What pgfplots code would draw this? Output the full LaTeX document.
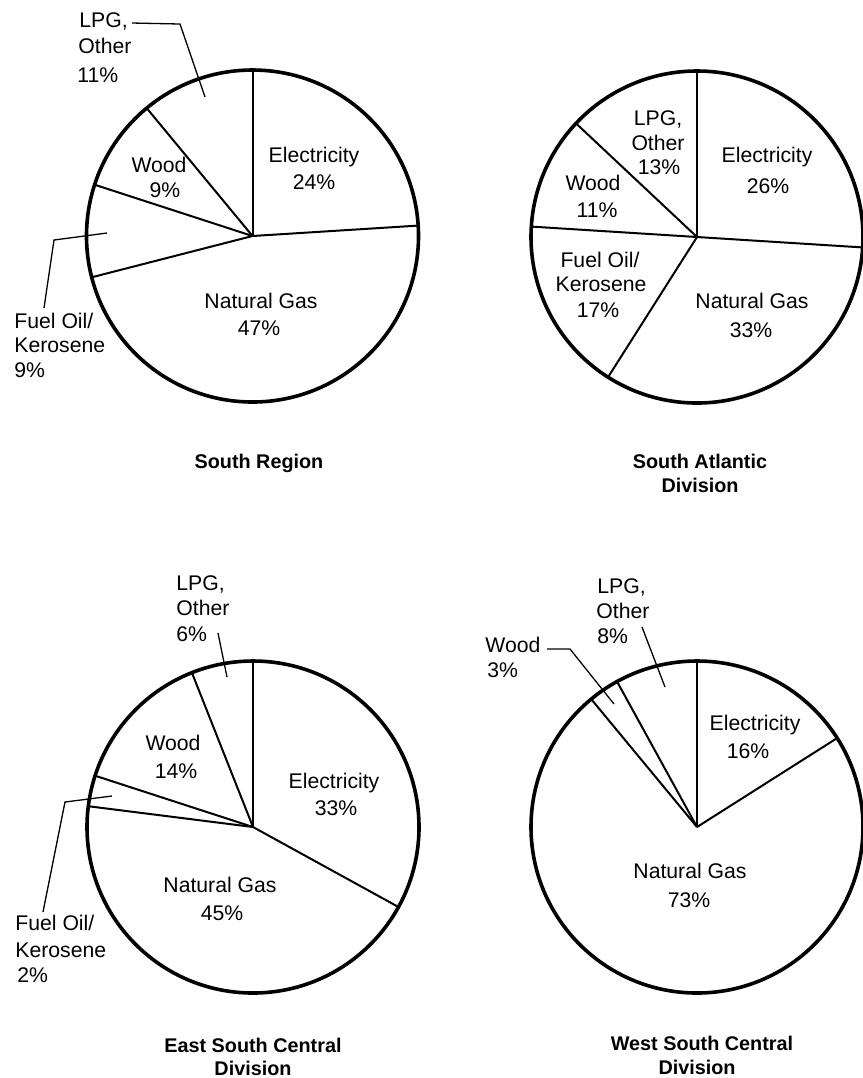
\documentclass[border=0pt]{standalone}
\usepackage{pgfplots}
\pgfplotsset{compat=1.18}
\usepackage{fontspec}
\setmainfont{Liberation Sans}

% one text line, placed at image pixel coordinates (x to the right, y downward)
\newcommand{\lab}[4][mid]{\node[anchor=#1, inner sep=0pt, font=\fontsize{10.6bp}{13bp}\selectfont] at (axis cs:#2,#3) {#4};}
\newcommand{\ttl}[3]{\node[anchor=mid, inner sep=0pt, font=\fontsize{9.9bp}{12bp}\selectfont\bfseries] at (axis cs:#1,#2) {#3};}

% pie: centre x, centre y, shares in percent (clockwise from 12 o'clock)
\newcommand{\pie}[3]{%
  \def\cum{90}%
  \pgfplotsforeachungrouped \p in {#3}{%
    \pgfmathsetmacro\cum{\cum-3.6*\p}%
    \pgfmathsetmacro\ex{#1+166*cos(\cum)}%
    \pgfmathsetmacro\ey{#2-166*sin(\cum)}%
    \edef\tmp{\noexpand\addplot[black, line width=1bp, mark=none] coordinates {(#1,#2) (\ex,\ey)};}%
    \tmp
  }%
  \draw[black, line width=1.8bp] (axis cs:#1,#2) circle[radius=83bp];
}

\begin{document}
\begin{tikzpicture}
\path[use as bounding box] (0,0) rectangle (431.5bp,-539bp);
\begin{axis}[
  at={(215.75bp,-269.5bp)}, anchor=center,
  scale only axis, width=431.5bp, height=539bp,
  xmin=0, xmax=863, ymin=0, ymax=1078, y dir=reverse,
  enlargelimits=false, hide axis, clip=false,
]
% ---------- South Region ----------
\pie{252.5}{236}{24,47,9,9,11}
\lab{314}{157}{Electricity}
\lab{314}{184}{24\%}
\lab{159}{167}{Wood}
\lab{165}{192}{9\%}
\lab{261}{303}{Natural Gas}
\lab{259}{330}{47\%}
\lab[mid west]{14}{323}{Fuel Oil/}
\lab[mid west]{14}{347}{Kerosene}
\lab[mid west]{14}{372}{9\%}
\lab[mid west]{79}{22}{LPG,}
\lab[mid west]{78}{48}{Other}
\lab[mid west]{77}{77}{11\%}
\draw[black, line width=0.65bp] (axis cs:132,23) -- (axis cs:180,24) -- (axis cs:205,97);
\draw[black, line width=0.65bp] (axis cs:107,233) -- (axis cs:54,240) -- (axis cs:44,308);
\ttl{259}{463}{South Region}

% ---------- South Atlantic ----------
\pie{697}{237}{26,33,17,11,13}
\lab{658}{120}{LPG,}
\lab{658}{145}{Other}
\lab{659}{169}{13\%}
\lab{767}{157}{Electricity}
\lab{768}{188}{26\%}
\lab{593}{185}{Wood}
\lab{597}{212}{11\%}
\lab{600}{262}{Fuel Oil/}
\lab{601}{286}{Kerosene}
\lab{598}{312}{17\%}
\lab{752}{303}{Natural Gas}
\lab{751}{332}{33\%}
\ttl{700}{463}{South Atlantic}
\ttl{700}{487}{Division}

% ---------- East South Central ----------
\pie{253}{827}{33,44,3,14,6}
\lab[mid west]{176}{585}{LPG,}
\lab[mid west]{176}{610}{Other}
\lab[mid west]{176}{636}{6\%}
\draw[black, line width=0.65bp] (axis cs:218,633) -- (axis cs:227,677);
\lab{173}{745}{Wood}
\lab{176}{773}{14\%}
\lab{334}{783}{Electricity}
\lab{336}{810}{33\%}
\lab{220}{887}{Natural Gas}
\lab{222}{915}{45\%}
\lab[mid west]{15}{925}{Fuel Oil/}
\lab[mid west]{15}{952}{Kerosene}
\lab[mid west]{17}{977}{2\%}
\draw[black, line width=0.65bp] (axis cs:112,796) -- (axis cs:65,802) -- (axis cs:43,912);
\ttl{253}{1047}{East South Central}
\ttl{253}{1070}{Division}

% ---------- West South Central ----------
\pie{697}{827}{16,73,3,8}
\lab[mid west]{597}{588}{LPG,}
\lab[mid west]{596}{613}{Other}
\lab[mid west]{597}{638}{8\%}
\draw[black, line width=0.65bp] (axis cs:642,627) -- (axis cs:665,687);
\lab[mid west]{485}{647}{Wood}
\lab[mid west]{487}{672}{3\%}
\draw[black, line width=0.65bp] (axis cs:547,649) -- (axis cs:570,649) -- (axis cs:614,704);
\lab{755}{725}{Electricity}
\lab{748}{753}{16\%}
\lab{690}{873}{Natural Gas}
\lab{689}{902}{73\%}
\ttl{702}{1045}{West South Central}
\ttl{697}{1069}{Division}
\end{axis}
\end{tikzpicture}
\end{document}
